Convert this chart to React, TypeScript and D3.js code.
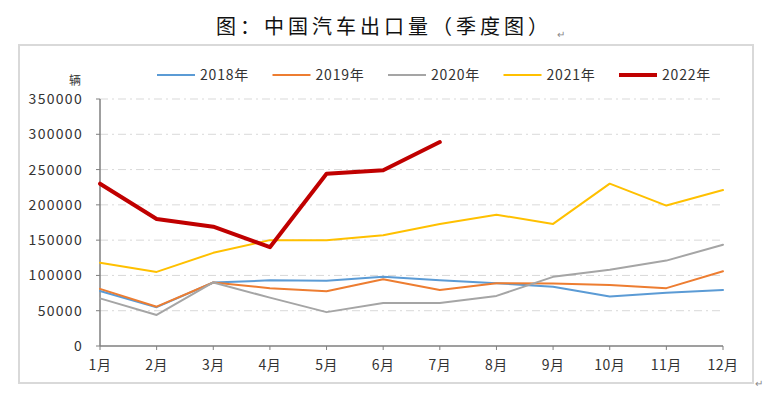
import React, { useEffect, useRef } from 'react'
import { select, scaleLinear, scalePoint, line } from 'd3'

const months = ['1月', '2月', '3月', '4月', '5月', '6月', '7月', '8月', '9月', '10月', '11月', '12月']
const yTicks = [0, 50000, 100000, 150000, 200000, 250000, 300000, 350000]

const s2018 = [78000, 55000, 90000, 93000, 92500, 98000, 93000, 89000, 84000, 70000, 75500, 79500]
const s2019 = [81000, 55700, 90000, 82000, 77500, 94500, 79500, 89000, 88500, 86500, 82000, 106000]
const s2020 = [67500, 44000, 90000, 68500, 48000, 61000, 61000, 71000, 98000, 108000, 121000, 143500]
const s2021 = [118000, 105000, 132000, 150000, 150000, 157000, 173000, 186000, 173000, 230000, 199000, 221000]
const s2022 = [230000, 180000, 169000, 140000, 244000, 249000, 289000]

const series = [
  { name: '2018年', values: s2018, color: '#5B9BD5', width: 2 },
  { name: '2019年', values: s2019, color: '#ED7D31', width: 2 },
  { name: '2020年', values: s2020, color: '#A5A5A5', width: 2 },
  { name: '2021年', values: s2021, color: '#FFC000', width: 2 },
  { name: '2022年', values: s2022, color: '#C00000', width: 4 },
]

export default function App() {
  const ref = useRef<SVGSVGElement>(null)

  useEffect(() => {
    const svg = select(ref.current)
    svg.selectAll('*').remove()
    const font = '"Noto Sans CJK SC", "Noto Sans", sans-serif'

    // title
    svg.append('text')
      .attr('x', 384).attr('y', 34)
      .attr('text-anchor', 'middle')
      .attr('font-family', font)
      .attr('font-size', 20)
      .attr('letter-spacing', 4)
      .attr('fill', '#111')
      .text('图：中国汽车出口量（季度图）')
    svg.append('text')
      .attr('x', 557).attr('y', 38)
      .attr('font-size', 10).attr('fill', '#888')
      .attr('font-family', font)
      .text('↵')
    svg.append('text')
      .attr('x', 755).attr('y', 387)
      .attr('font-size', 10).attr('fill', '#888')
      .attr('font-family', font)
      .text('↵')

    // frame
    svg.append('rect')
      .attr('x', 19).attr('y', 45).attr('width', 734).attr('height', 338)
      .attr('fill', 'none').attr('stroke', '#d9d9d9').attr('stroke-width', 2)

    const x = scalePoint<string>().domain(months).range([100, 723])
    const y = scaleLinear().domain([0, 350000]).range([346, 99])

    // gridlines
    svg.append('g').selectAll('line')
      .data(yTicks.slice(1))
      .join('line')
      .attr('x1', 100).attr('x2', 723)
      .attr('y1', d => y(d)).attr('y2', d => y(d))
      .attr('stroke', '#d9d9d9').attr('stroke-width', 1)
      .attr('stroke-dasharray', '8 4 2 4')

    // y axis
    svg.append('line')
      .attr('x1', 100).attr('x2', 100).attr('y1', y(350000)).attr('y2', y(0))
      .attr('stroke', '#7f7f7f').attr('stroke-width', 1.5)
    svg.append('g').selectAll('line')
      .data(yTicks)
      .join('line')
      .attr('x1', 96).attr('x2', 100)
      .attr('y1', d => y(d)).attr('y2', d => y(d))
      .attr('stroke', '#7f7f7f')
    svg.append('g').selectAll('text')
      .data(yTicks)
      .join('text')
      .attr('x', 83).attr('y', d => y(d) + 5)
      .attr('text-anchor', 'end')
      .attr('font-family', font).attr('font-size', 14)
      .attr('letter-spacing', 1.3)
      .attr('fill', '#333')
      .text(d => d)
    svg.append('text')
      .attr('x', 75).attr('y', 85)
      .attr('text-anchor', 'middle')
      .attr('font-family', font).attr('font-size', 12)
      .attr('fill', '#333')
      .text('辆')

    // x axis
    svg.append('line')
      .attr('x1', 100).attr('x2', 723).attr('y1', y(0)).attr('y2', y(0))
      .attr('stroke', '#7f7f7f').attr('stroke-width', 1.5)
    svg.append('g').selectAll('line')
      .data(months)
      .join('line')
      .attr('x1', d => x(d)!).attr('x2', d => x(d)!)
      .attr('y1', y(0)).attr('y2', y(0) + 4)
      .attr('stroke', '#7f7f7f')
    svg.append('g').selectAll('text')
      .data(months)
      .join('text')
      .attr('x', d => x(d)!).attr('y', 370)
      .attr('text-anchor', 'middle')
      .attr('font-family', font).attr('font-size', 14)
      .attr('letter-spacing', 0.5)
      .attr('fill', '#333')
      .text(d => d)

    // lines
    const path = line<number>()
      .x((d, i) => x(months[i])!)
      .y(d => y(d))
    series.forEach(s => {
      svg.append('path')
        .datum(s.values)
        .attr('fill', 'none')
        .attr('stroke', s.color)
        .attr('stroke-width', s.width)
        .attr('stroke-linejoin', 'round')
        .attr('stroke-linecap', 'round')
        .attr('d', path)
    })

    // legend
    const lg = svg.append('g').selectAll('g')
      .data(series)
      .join('g')
      .attr('transform', (d, i) => 'translate(' + (157 + i * 115.5) + ',75)')
    lg.append('line')
      .attr('x1', 0).attr('x2', 38).attr('y1', 0).attr('y2', 0)
      .attr('stroke', d => d.color).attr('stroke-width', d => d.width)
    lg.append('text')
      .attr('x', 43).attr('y', 5)
      .attr('font-family', font).attr('font-size', 14)
      .attr('letter-spacing', 0.8)
      .attr('fill', '#333')
      .text(d => d.name)
  }, [])

  return (
    <svg ref={ref} width={774} height={395}
      style={{ position: 'absolute', left: 0, top: 0, background: '#fff' }} />
  )
}
